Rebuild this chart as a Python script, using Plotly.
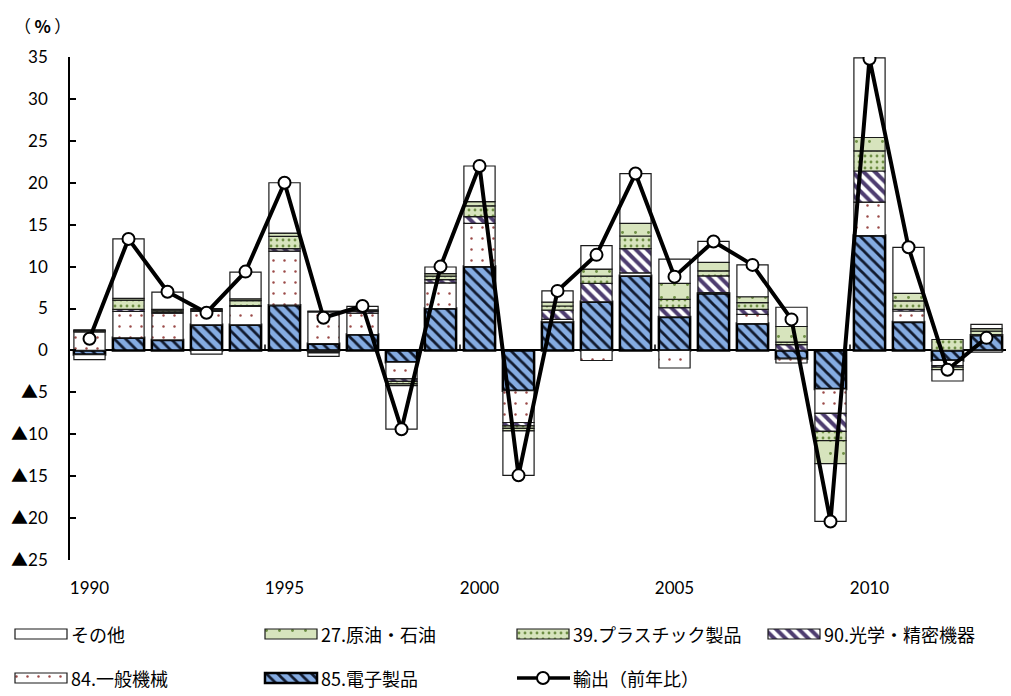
import plotly.graph_objects as go

# ---- data -------------------------------------------------------------
years = list(range(1990, 2014))

# contribution to export growth by product group (percentage points)
denshi_85 = [-0.5, 1.5, 1.25, 3.05, 3.05, 5.4, 0.8, 1.9, -1.4, 5.0, 10.0, -4.8,
             3.4, 5.8, 8.9, 4.0, 6.8, 3.2, -1.0, -4.6, 13.7, 3.4, -1.2, 1.8]
ippan_84 = [2.2, 3.15, 3.2, 1.6, 2.2, 6.45, 3.8, 2.55, -2.0, 3.05, 5.15, -3.8,
            0.3, -1.2, 0.35, -2.1, 0.1, 1.1, -0.5, -2.9, 4.0, 1.3, -0.6, -0.2]
kogaku_90 = [0.1, 0.25, 0.15, 0.1, 0.1, 0.3, 0.1, 0.2, -0.3, 0.4, 0.8, -0.4,
             1.1, 2.2, 2.9, 1.1, 2.0, 0.6, 0.7, -2.15, 3.7, 0.2, -0.2, 0.1]
plastic_39 = [0.1, 1.1, 0.2, 0.15, 0.6, 1.45, -0.15, 0.1, -0.3, 0.4, 1.3, -0.3,
              0.5, 0.85, 1.5, 1.0, 0.6, 0.8, 0.3, -1.1, 2.4, 1.0, 1.3, 0.4]
genyu_27 = [0.05, 0.2, 0.1, 0.1, 0.2, 0.4, -0.15, 0.1, -0.2, 0.3, 0.5, -0.3,
            0.45, 0.85, 1.5, 1.9, 1.0, 0.7, 1.85, -2.75, 1.6, 0.9, -0.3, 0.3]
sonota = [-0.6, 7.1, 2.05, -0.45, 3.2, 6.0, -0.4, 0.4, -5.2, 0.8, 4.25, -5.3,
          1.35, 2.8, 5.95, 2.9, 2.5, 3.8, 2.3, -6.9, 9.5, 5.5, -1.35, 0.5]

# export growth, year on year (%)
export_yoy = [1.4, 13.3, 7.0, 4.5, 9.4, 20.0, 3.9, 5.3, -9.4, 10.0, 22.0, -14.9,
              7.1, 11.4, 21.1, 8.8, 13.0, 10.2, 3.7, -20.4, 34.8, 12.3, -2.3, 1.5]

x_tick_years = [1990, 1995, 2000, 2005, 2010, 2013]
x_tick_text = ["1990", "1995", "2000", "2005", "2010", "（年）"]
y_tick_vals = [-25, -20, -15, -10, -5, 0, 5, 10, 15, 20, 25, 30, 35]
y_tick_text = ["▲25", "▲20", "▲15", "▲10", "▲5", "0", "5", "10", "15", "20", "25", "30", "35"]

# ---- styles -------------------------------------------------------------
W, H = 1011, 696
FONT = "Lato, Noto Sans CJK JP, sans-serif"
JP_FONT = "Noto Sans CJK JP"
THIN = dict(color="#1a1a1a", width=1.2)

styles = {
    "85.電子製品": dict(color="#85ace2", line=dict(color="black", width=2.5),
                      pattern=dict(shape="\\", fgcolor="#111a2e", bgcolor="#85ace2",
                                   fgopacity=1, size=8, solidity=0.35, fillmode="overlay")),
    "84.一般機械": dict(color="white", line=THIN,
                      pattern=dict(shape=".", fgcolor="#9b4a48", bgcolor="white",
                                   fgopacity=1, size=11, solidity=0.04, fillmode="overlay")),
    "90.光学・精密機器": dict(color="white", line=THIN,
                         pattern=dict(shape="\\", fgcolor="#4e3d70", bgcolor="white",
                                      fgopacity=1, size=8, solidity=0.5, fillmode="overlay")),
    "39.プラスチック製品": dict(color="#d7e4bd", line=THIN,
                           pattern=dict(shape=".", fgcolor="#6f8f45", bgcolor="#d7e4bd",
                                        fgopacity=1, size=6, solidity=0.18, fillmode="overlay")),
    "27.原油・石油": dict(color="#d7e4bd", line=THIN,
                      pattern=dict(shape=".", fgcolor="#6f8f45", bgcolor="#d7e4bd",
                                   fgopacity=1, size=13, solidity=0.04, fillmode="overlay")),
    "その他": dict(color="white", line=THIN),
}

# stacking order, bottom to top
stack = [
    ("85.電子製品", denshi_85),
    ("84.一般機械", ippan_84),
    ("90.光学・精密機器", kogaku_90),
    ("39.プラスチック製品", plastic_39),
    ("27.原油・石油", genyu_27),
    ("その他", sonota),
]

fig = go.Figure()

for name, vals in stack:
    fig.add_trace(go.Bar(x=years, y=vals, name=name, marker=styles[name],
                         showlegend=False, hoverinfo="x+y+name"))

line_style = dict(color="black", width=4)
marker_style = dict(symbol="circle", size=12, color="white",
                    line=dict(color="black", width=2))
fig.add_trace(go.Scatter(x=years, y=export_yoy, name="輸出（前年比）",
                         mode="lines+markers", line=line_style, marker=marker_style,
                         showlegend=False))

# short category tick marks above the zero line, every five years
for i, yr in enumerate(years):
    if i > 0 and yr % 5 == 0:
        fig.add_shape(type="line", xref="x", yref="y", x0=yr - 0.5, x1=yr - 0.5,
                      y0=0, y1=0.7, line=dict(color="black", width=1.5))

# ---- legend, drawn on a pixel-unit overlay axis -------------------------
legend_rows = [
    [("その他", 15), ("27.原油・石油", 265), ("39.プラスチック製品", 517), ("90.光学・精密機器", 768)],
    [("84.一般機械", 15), ("85.電子製品", 265), ("輸出（前年比）", 517)],
]
row_y = [634, 678]
SW_LEN, SW_H = 52, 10

for r, row in enumerate(legend_rows):
    for name, x0 in row:
        if name in styles:
            fig.add_trace(go.Bar(orientation="h", x=[SW_LEN], base=[x0], y=[row_y[r]],
                                 width=SW_H, marker=styles[name], xaxis="x2", yaxis="y2",
                                 showlegend=False, hoverinfo="skip"))
        else:
            fig.add_trace(go.Scatter(x=[x0, x0 + SW_LEN / 2, x0 + SW_LEN + 1],
                                     y=[row_y[r]] * 3, mode="lines",
                                     line=dict(color="black", width=3.5),
                                     xaxis="x2", yaxis="y2", showlegend=False,
                                     hoverinfo="skip"))
            fig.add_trace(go.Scatter(x=[x0 + SW_LEN / 2], y=[row_y[r]], mode="markers",
                                     marker=marker_style, xaxis="x2", yaxis="y2",
                                     showlegend=False, hoverinfo="skip"))
        fig.add_annotation(x=x0 + SW_LEN + 2, y=row_y[r], xref="x2", yref="y2",
                           text=name, showarrow=False, xanchor="left", yanchor="middle",
                           font=dict(family=JP_FONT, size=18, color="black"))

fig.add_annotation(x=42 / W, y=1 - 26 / H, xref="paper", yref="paper",
                   text="（\u2009<b>%</b>\u2009）",
                   showarrow=False, xanchor="center", yanchor="middle",
                   font=dict(family=JP_FONT, size=17, color="black"))

fig.update_layout(
    width=W, height=H,
    margin=dict(l=0, r=0, t=0, b=0),
    paper_bgcolor="white", plot_bgcolor="rgba(0,0,0,0)",
    barmode="relative", bargap=0.2,
    font=dict(family=FONT, size=17, color="black"),
    xaxis=dict(domain=[70 / W, 1006 / W], range=[1989.5, 2013.5],
               tickvals=x_tick_years, ticktext=x_tick_text, ticks="",
               showline=False, showgrid=False, zeroline=False,
               ticklabelstandoff=16, automargin=False,
               tickfont=dict(family=FONT, size=17, color="black")),
    yaxis=dict(domain=[1 - 560 / H, 1 - 57 / H], range=[-25, 35],
               tickvals=y_tick_vals, ticktext=y_tick_text,
               ticks="inside", ticklen=6, tickwidth=1.5, tickcolor="black",
               showline=True, linecolor="black", linewidth=1.5,
               showgrid=False, zeroline=True, zerolinecolor="black", zerolinewidth=1.5,
               ticklabelstandoff=17, automargin=False,
               tickfont=dict(family=FONT, size=17, color="black")),
    xaxis2=dict(domain=[0, 1], range=[0, W], visible=False, anchor="y2",
                fixedrange=True),
    yaxis2=dict(domain=[0, 1], range=[H, 0], visible=False, anchor="x2",
                fixedrange=True),
)

fig.write_html("out.html")
